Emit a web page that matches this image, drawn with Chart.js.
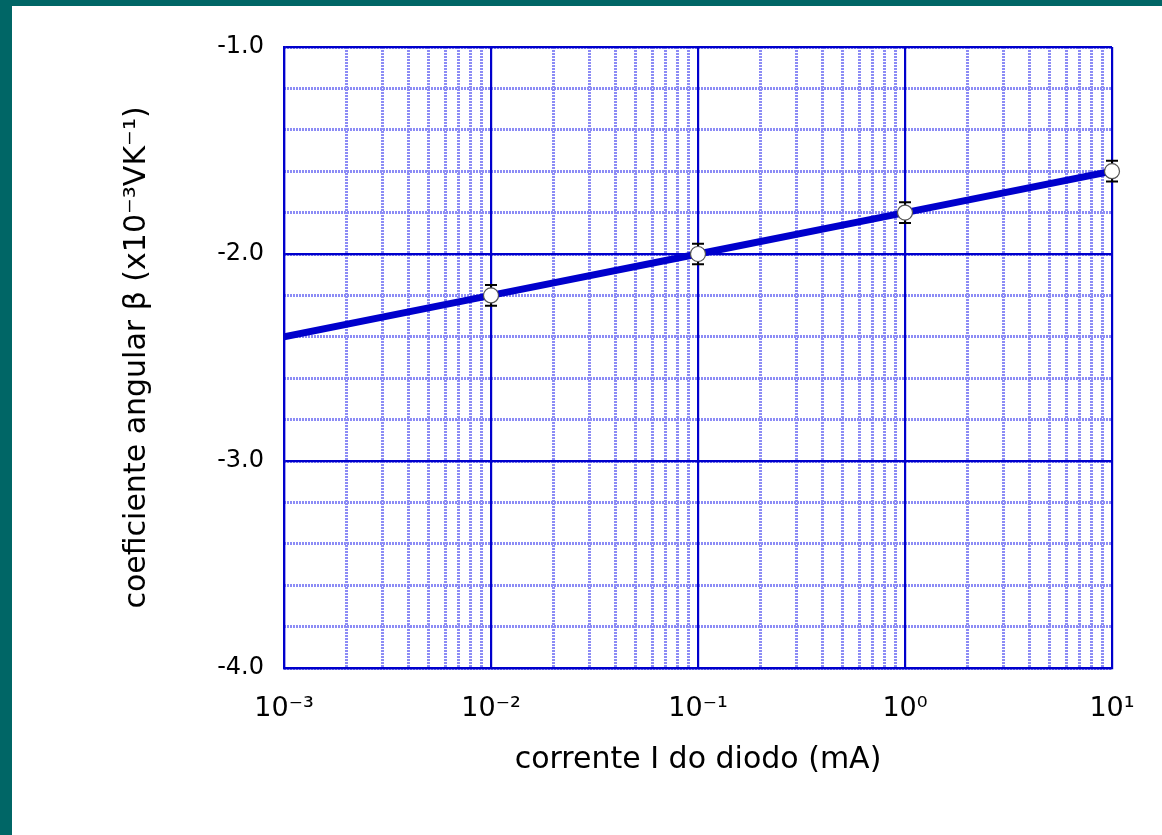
<!DOCTYPE html>
<html>
<head>
<meta charset="utf-8">
<script src="https://cdn.jsdelivr.net/npm/chart.js@4.4.0/dist/chart.umd.min.js"></script>
<style>
  html, body { margin: 0; padding: 0; background: #006666; width: 1162px; height: 835px; overflow: hidden; }
  #box { position: absolute; left: 12px; top: 6px; width: 1150px; height: 829px; background: #fff; }
</style>
</head>
<body>
<div id="box"><canvas id="chart"></canvas></div>
<script>
// measured points
const current = [0.01, 0.1, 1, 10];          // mA
const beta = [-2.2, -2.0, -1.8, -1.6];        // x10^-3 V/K
const betaErr = [0.05, 0.05, 0.05, 0.05];

// fitted line
const fitCurrent = [0.001, 0.01, 0.1, 1, 10];
const fitBeta = [-2.4, -2.2, -2.0, -1.8, -1.6];

// axis ticks
const xMajor = [0.001, 0.01, 0.1, 1, 10];
const xLabels = ['10\u207B\u00B3', '10\u207B\u00B2', '10\u207B\u00B9', '10\u2070', '10\u00B9'];
const xMinor = [];
for (let d = 0; d < 4; d++) {
    for (let m = 2; m <= 9; m++) xMinor.push(m * xMajor[d]);
}

const blue = '#0000cc';
const minorBlue = 'rgb(140, 140, 245)';
const font = 'DejaVu Sans';

const errorBars = {
    id: 'errorBars',
    beforeDatasetDraw(chart, args) {
        if (args.index !== 0) return;
        const ctx = chart.ctx;
        const xs = chart.scales.x, ys = chart.scales.y;
        ctx.save();
        ctx.strokeStyle = '#000';
        ctx.lineWidth = 2;
        current.forEach((c, i) => {
            const px = xs.getPixelForValue(c);
            const top = ys.getPixelForValue(beta[i] + betaErr[i]);
            const bot = ys.getPixelForValue(beta[i] - betaErr[i]);
            ctx.beginPath();
            ctx.moveTo(px, top); ctx.lineTo(px, bot);
            ctx.moveTo(px - 6, top); ctx.lineTo(px + 6, top);
            ctx.moveTo(px - 6, bot); ctx.lineTo(px + 6, bot);
            ctx.stroke();
        });
        ctx.restore();
    }
};

new Chart(document.getElementById('chart'), {
    type: 'scatter',
    data: {
        datasets: [
            {
                label: 'medidas',
                data: current.map((c, i) => ({ x: c, y: beta[i] })),
                pointRadius: 7.5,
                pointBackgroundColor: '#fff',
                pointBorderColor: '#555',
                pointBorderWidth: 1.2,
                showLine: false,
                clip: false
            },
            {
                label: 'ajuste',
                data: fitCurrent.map((c, i) => ({ x: c, y: fitBeta[i] })),
                showLine: true,
                borderColor: blue,
                borderWidth: 7,
                pointRadius: 0
            }
        ]
    },
    options: {
        responsive: true,
        maintainAspectRatio: false,
        animation: false,
        layout: { padding: { left: 0, top: 41, right: 50, bottom: 0 } },
        plugins: { legend: { display: false }, tooltip: { enabled: false } },
        scales: {
            x: {
                type: 'logarithmic',
                position: 'bottom',
                min: 0.001,
                max: 10,
                afterBuildTicks: s => { s.ticks = xMajor.map(v => ({ value: v })); },
                afterFit: s => { s.height = 167; },
                ticks: {
                    color: '#000',
                    font: { family: font, size: 27 },
                    padding: 25,
                    maxRotation: 0,
                    autoSkip: false,
                    callback: (v) => xLabels[xMajor.findIndex(m => Math.abs(m - v) < m * 1e-6)]
                },
                grid: { color: blue, lineWidth: 2.2, drawTicks: false, z: -1 },
                border: { color: blue, width: 2.2 },
                title: {
                    display: true,
                    text: 'corrente I do diodo (mA)',
                    color: '#000',
                    font: { family: font, size: 30 },
                    padding: { top: 0, bottom: 57 }
                }
            },
            xMinor: {
                type: 'logarithmic',
                position: 'bottom',
                min: 0.001,
                max: 10,
                afterBuildTicks: s => { s.ticks = xMinor.map(v => ({ value: v })); },
                afterFit: s => { s.height = 0; },
                ticks: { display: false },
                grid: { color: minorBlue, lineWidth: 3, drawTicks: false, z: -2 },
                border: { display: false, dash: [2, 1] }
            },
            y: {
                type: 'linear',
                position: 'left',
                min: -4,
                max: -1,
                afterFit: s => { s.width = 272; },
                ticks: {
                    stepSize: 1,
                    color: '#000',
                    font: { family: font, size: 24 },
                    padding: 20,
                    callback: v => v.toFixed(1)
                },
                grid: { color: blue, lineWidth: 2.2, drawTicks: false, z: -1 },
                border: { color: blue, width: 2.2 },
                title: {
                    display: true,
                    text: 'coeficiente angular \u03B2 (x10\u207B\u00B3VK\u207B\u00B9)',
                    color: '#000',
                    font: { family: font, size: 30 },
                    padding: { top: 107, bottom: 0 }
                }
            },
            yMinor: {
                type: 'linear',
                position: 'left',
                min: -4,
                max: -1,
                afterFit: s => { s.width = 0; },
                ticks: { display: false, stepSize: 0.2 },
                grid: { color: minorBlue, lineWidth: 3, drawTicks: false, z: -2 },
                border: { display: false, dash: [2, 1] }
            }
        }
    },
    plugins: [errorBars]
});
</script>
</body>
</html>
